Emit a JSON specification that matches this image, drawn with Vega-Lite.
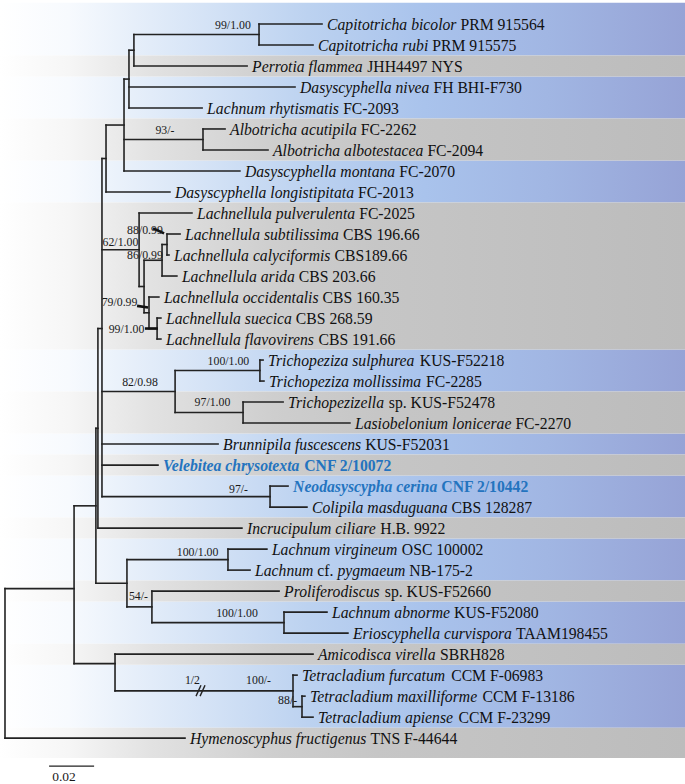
{
  "$schema": "https://vega.github.io/schema/vega-lite/v6.json",
  "width": 685,
  "height": 784,
  "autosize": {"type": "fit", "contains": "padding"},
  "padding": 0,
  "background": "white",
  "config": {"view": {"stroke": null}, "text": {"font": "Liberation Serif"}},
  "datasets": {
    "bands": [
      {"c": "blue", "y1": -1.01, "y2": 1.5},
      {"c": "gray", "y1": 1.5, "y2": 2.5},
      {"c": "blue", "y1": 2.5, "y2": 4.5},
      {"c": "gray", "y1": 4.5, "y2": 6.5},
      {"c": "blue", "y1": 6.5, "y2": 8.5},
      {"c": "gray", "y1": 8.5, "y2": 15.5},
      {"c": "blue", "y1": 15.5, "y2": 17.5},
      {"c": "gray", "y1": 17.5, "y2": 19.5},
      {"c": "blue", "y1": 19.5, "y2": 20.5},
      {"c": "gray", "y1": 20.5, "y2": 21.5},
      {"c": "blue", "y1": 21.5, "y2": 23.5},
      {"c": "gray", "y1": 23.5, "y2": 24.5},
      {"c": "blue", "y1": 24.5, "y2": 26.5},
      {"c": "gray", "y1": 26.5, "y2": 27.5},
      {"c": "blue", "y1": 27.5, "y2": 29.5},
      {"c": "gray", "y1": 29.5, "y2": 30.5},
      {"c": "blue", "y1": 30.5, "y2": 33.5},
      {"c": "gray", "y1": 33.5, "y2": 34.95}
    ],
    "tree": [
      {"id": "J", "parent": "root", "x0": 0, "x": 0.0307, "y": 26.88},
      {"id": "G", "parent": "J", "x0": 0.0307, "x": 0.0404, "y": 22.94},
      {"id": "K", "parent": "J", "x0": 0.0307, "x": 0.0489, "y": 30.45},
      {"id": "Q", "parent": "G", "x0": 0.0404, "x": 0.0413, "y": 19.25},
      {"id": "H", "parent": "G", "x0": 0.0404, "x": 0.0542, "y": 26.625},
      {"id": "R", "parent": "Q", "x0": 0.0413, "x": 0.0431, "y": 14.5},
      {"id": "D", "parent": "R", "x0": 0.0431, "x": 0.0449, "y": 6.406},
      {"id": "C", "parent": "D", "x0": 0.0449, "x": 0.0529, "y": 4.8125},
      {"id": "B", "parent": "C", "x0": 0.0529, "x": 0.0551, "y": 2.625},
      {"id": "A", "parent": "B", "x0": 0.0551, "x": 0.0573, "y": 1.25},
      {"id": "Cap", "parent": "A", "x0": 0.0573, "x": 0.1129, "y": 0.5},
      {"id": "Albo", "parent": "C", "x0": 0.0529, "x": 0.088, "y": 5.5},
      {"id": "Lach", "parent": "R", "x0": 0.0431, "x": 0.0596, "y": 10.75},
      {"id": "L", "parent": "Lach", "x0": 0.0596, "x": 0.0618, "y": 12.5},
      {"id": "M", "parent": "L", "x0": 0.0618, "x": 0.0698, "y": 11.25},
      {"id": "N", "parent": "M", "x0": 0.0698, "x": 0.072, "y": 10.5},
      {"id": "O", "parent": "L", "x0": 0.0618, "x": 0.064, "y": 13.75},
      {"id": "P", "parent": "O", "x0": 0.064, "x": 0.0676, "y": 14.5},
      {"id": "T", "parent": "R", "x0": 0.0431, "x": 0.0756, "y": 17.5},
      {"id": "U", "parent": "T", "x0": 0.0756, "x": 0.1133, "y": 16.5},
      {"id": "V", "parent": "T", "x0": 0.0756, "x": 0.1058, "y": 18.5},
      {"id": "Neo", "parent": "R", "x0": 0.0431, "x": 0.1178, "y": 22.5},
      {"id": "Virg", "parent": "H", "x0": 0.0542, "x": 0.0991, "y": 25.5},
      {"id": "I", "parent": "H", "x0": 0.0542, "x": 0.0653, "y": 27.75},
      {"id": "Abn", "parent": "I", "x0": 0.0653, "x": 0.124, "y": 28.5},
      {"id": "W", "parent": "K", "x0": 0.0489, "x": 0.128, "y": 31.75},
      {"id": "X", "parent": "W", "x0": 0.128, "x": 0.132, "y": 32.5},
      {"id": "t0", "parent": "Cap", "x0": 0.1129, "x": 0.1409, "y": 0, "it1": "Capitotricha bicolor", "r1": "PRM 915564", "novel": false},
      {"id": "t1", "parent": "Cap", "x0": 0.1129, "x": 0.1369, "y": 1, "it1": "Capitotricha rubi", "r1": "PRM 915575", "novel": false},
      {"id": "t2", "parent": "A", "x0": 0.0573, "x": 0.1076, "y": 2, "it1": "Perrotia flammea", "r1": "JHH4497 NYS", "novel": false},
      {"id": "t3", "parent": "B", "x0": 0.0551, "x": 0.1289, "y": 3, "it1": "Dasyscyphella nivea", "r1": "FH BHI-F730", "novel": false},
      {"id": "t4", "parent": "B", "x0": 0.0551, "x": 0.0876, "y": 4, "it1": "Lachnum rhytismatis", "r1": "FC-2093", "novel": false},
      {"id": "t5", "parent": "Albo", "x0": 0.088, "x": 0.0978, "y": 5, "it1": "Albotricha acutipila", "r1": "FC-2262", "novel": false},
      {"id": "t6", "parent": "Albo", "x0": 0.088, "x": 0.1169, "y": 6, "it1": "Albotricha albotestacea", "r1": "FC-2094", "novel": false},
      {"id": "t7", "parent": "C", "x0": 0.0529, "x": 0.1044, "y": 7, "it1": "Dasyscyphella montana", "r1": "FC-2070", "novel": false},
      {"id": "t8", "parent": "D", "x0": 0.0449, "x": 0.0733, "y": 8, "it1": "Dasyscyphella longistipitata", "r1": "FC-2013", "novel": false},
      {"id": "t9", "parent": "Lach", "x0": 0.0596, "x": 0.0831, "y": 9, "it1": "Lachnellula pulverulenta", "r1": "FC-2025", "novel": false},
      {"id": "t10", "parent": "N", "x0": 0.072, "x": 0.0778, "y": 10, "it1": "Lachnellula subtilissima", "r1": "CBS 196.66", "novel": false},
      {"id": "t11", "parent": "N", "x0": 0.072, "x": 0.0729, "y": 11, "it1": "Lachnellula calyciformis", "r1": "CBS189.66", "novel": false},
      {"id": "t12", "parent": "M", "x0": 0.0698, "x": 0.0764, "y": 12, "it1": "Lachnellula arida", "r1": "CBS 203.66", "novel": false},
      {"id": "t13", "parent": "O", "x0": 0.064, "x": 0.0684, "y": 13, "it1": "Lachnellula occidentalis", "r1": "CBS 160.35", "novel": false},
      {"id": "t14", "parent": "P", "x0": 0.0676, "x": 0.0693, "y": 14, "it1": "Lachnellula suecica", "r1": "CBS 268.59", "novel": false},
      {"id": "t15", "parent": "P", "x0": 0.0676, "x": 0.0693, "y": 15, "it1": "Lachnellula flavovirens", "r1": "CBS 191.66", "novel": false},
      {"id": "t16", "parent": "U", "x0": 0.1133, "x": 0.1147, "y": 16, "it1": "Trichopeziza sulphurea", "r1": "KUS-F52218", "novel": false},
      {"id": "t17", "parent": "U", "x0": 0.1133, "x": 0.1151, "y": 17, "it1": "Trichopeziza mollissima", "r1": "FC-2285", "novel": false},
      {"id": "t18", "parent": "V", "x0": 0.1058, "x": 0.1236, "y": 18, "it1": "Trichopezizella", "r1": "sp. KUS-F52478", "novel": false},
      {"id": "t19", "parent": "V", "x0": 0.1058, "x": 0.1533, "y": 19, "it1": "Lasiobelonium lonicerae", "r1": "FC-2270", "novel": false},
      {"id": "t20", "parent": "R", "x0": 0.0431, "x": 0.0947, "y": 20, "it1": "Brunnipila fuscescens", "r1": "KUS-F52031", "novel": false},
      {"id": "t21", "parent": "R", "x0": 0.0431, "x": 0.068, "y": 21, "it1": "Velebitea chrysotexta", "r1": "CNF 2/10072", "novel": true},
      {"id": "t22", "parent": "Neo", "x0": 0.1178, "x": 0.1258, "y": 22, "it1": "Neodasyscypha cerina", "r1": "CNF 2/10442", "novel": true},
      {"id": "t23", "parent": "Neo", "x0": 0.1178, "x": 0.1342, "y": 23, "it1": "Colipila masduguana", "r1": "CBS 128287", "novel": false},
      {"id": "t24", "parent": "Q", "x0": 0.0413, "x": 0.1053, "y": 24, "it1": "Incrucipulum ciliare", "r1": "H.B. 9922", "novel": false},
      {"id": "t25", "parent": "Virg", "x0": 0.0991, "x": 0.1164, "y": 25, "it1": "Lachnum virgineum", "r1": "OSC 100002", "novel": false},
      {"id": "t26", "parent": "Virg", "x0": 0.0991, "x": 0.1089, "y": 26, "it1": "Lachnum", "r1": "cf.", "it2": "pygmaeum", "r2": "NB-175-2", "novel": false},
      {"id": "t27", "parent": "I", "x0": 0.0653, "x": 0.1218, "y": 27, "it1": "Proliferodiscus", "r1": "sp. KUS-F52660", "novel": false},
      {"id": "t28", "parent": "Abn", "x0": 0.124, "x": 0.1431, "y": 28, "it1": "Lachnum abnorme", "r1": "KUS-F52080", "novel": false},
      {"id": "t29", "parent": "Abn", "x0": 0.124, "x": 0.1524, "y": 29, "it1": "Erioscyphella curvispora", "r1": "TAAM198455", "novel": false},
      {"id": "t30", "parent": "K", "x0": 0.0489, "x": 0.1369, "y": 30, "it1": "Amicodisca virella", "r1": "SBRH828", "novel": false},
      {"id": "t31", "parent": "W", "x0": 0.128, "x": 0.1298, "y": 31, "it1": "Tetracladium furcatum", "r1": "CCM F-06983", "novel": false},
      {"id": "t32", "parent": "X", "x0": 0.132, "x": 0.1333, "y": 32, "it1": "Tetracladium maxilliforme", "r1": "CCM F-13186", "novel": false},
      {"id": "t33", "parent": "X", "x0": 0.132, "x": 0.1369, "y": 33, "it1": "Tetracladium apiense", "r1": "CCM F-23299", "novel": false},
      {"id": "t34", "parent": "root", "x0": 0, "x": 0.08, "y": 34, "it1": "Hymenoscyphus fructigenus", "r1": "TNS F-44644", "novel": false}
    ],
    "supports": [
      {"t": "99/1.00", "x": 0.1013, "y": 0.05},
      {"t": "93/-", "x": 0.0711, "y": 5.03},
      {"t": "62/1.00", "x": 0.0513, "y": 10.4},
      {"t": "88/0.99", "x": 0.0622, "y": 9.83},
      {"t": "86/0.99", "x": 0.0622, "y": 11.02},
      {"t": "79/0.99", "x": 0.0509, "y": 13.25},
      {"t": "99/1.00", "x": 0.054, "y": 14.5},
      {"t": "100/1.00", "x": 0.0993, "y": 16.05},
      {"t": "82/0.98", "x": 0.06, "y": 17.05},
      {"t": "97/1.00", "x": 0.0922, "y": 18.0},
      {"t": "97/-", "x": 0.1038, "y": 22.13},
      {"t": "100/1.00", "x": 0.0856, "y": 25.12},
      {"t": "54/-", "x": 0.0593, "y": 27.21},
      {"t": "100/1.00", "x": 0.1031, "y": 28.06},
      {"t": "1/2", "x": 0.0833, "y": 31.24},
      {"t": "100/-", "x": 0.1127, "y": 31.24},
      {"t": "88/-", "x": 0.1256, "y": 32.19}
    ],
    "segs": [
      {"k": "arrow", "x": 0.0658, "x2": 0.0707, "y": 9.73, "y2": 9.97},
      {"k": "arrow", "x": 0.0587, "x2": 0.0636, "y": 13.42, "y2": 13.5},
      {"k": "arrow", "x": 0.0622, "x2": 0.068, "y": 14.5, "y2": 14.5},
      {"k": "break", "x": 0.0849, "x2": 0.0871, "y": 32.0, "y2": 31.48},
      {"k": "break", "x": 0.0867, "x2": 0.0889, "y": 32.0, "y2": 31.48},
      {"k": "scale", "x": 0.0196, "x2": 0.0396, "y": 35.33, "y2": 35.33}
    ],
    "scalelabel": [{"t": "0.02", "x": 0.0262, "y": 35.85}]
  },
  "layer": [
    {
      "data": {"name": "bands"},
      "transform": [{"filter": "datum.c == 'blue'"}],
      "mark": {"type": "rect", "fill": {"gradient": "linear", "x1": 0, "y1": 0, "x2": 1, "y2": 0, "stops": [
        {"offset": 0, "color": "#ffffff"},
        {"offset": 0.1, "color": "#f7fafe"},
        {"offset": 0.22, "color": "#e2ecf9"},
        {"offset": 0.45, "color": "#bcd2f0"},
        {"offset": 0.62, "color": "#a9c3ec"},
        {"offset": 0.8, "color": "#a1b6e3"},
        {"offset": 1, "color": "#96a3d6"}]}},
      "encoding": {
        "y": {"field": "y1", "type": "quantitative", "scale": {"domain": [-1.1396, 36.087], "nice": false, "zero": false, "reverse": true}, "axis": null},
        "y2": {"field": "y2"}
      }
    },
    {
      "data": {"name": "bands"},
      "transform": [{"filter": "datum.c == 'gray'"}],
      "mark": {"type": "rect", "fill": {"gradient": "linear", "x1": 0, "y1": 0, "x2": 1, "y2": 0, "stops": [
        {"offset": 0, "color": "#ffffff"},
        {"offset": 0.1, "color": "#f6f6f6"},
        {"offset": 0.22, "color": "#e2e2e2"},
        {"offset": 0.4, "color": "#cecece"},
        {"offset": 0.55, "color": "#c6c6c6"},
        {"offset": 1, "color": "#bcbcbc"}]}},
      "encoding": {
        "y": {"field": "y1", "type": "quantitative", "scale": {"domain": [-1.1396, 36.087], "nice": false, "zero": false, "reverse": true}, "axis": null},
        "y2": {"field": "y2"}
      }
    },
    {
      "data": {"name": "tree"},
      "mark": {"type": "rule", "color": "#222222", "strokeWidth": 1.6, "strokeCap": "square"},
      "encoding": {
        "x": {"field": "x0", "type": "quantitative", "scale": {"domain": [-0.00222, 0.30222], "nice": false, "zero": false}, "axis": null},
        "x2": {"field": "x"},
        "y": {"field": "y", "type": "quantitative", "scale": {"domain": [-1.1396, 36.087], "nice": false, "zero": false, "reverse": true}, "axis": null}
      }
    },
    {
      "data": {"name": "tree"},
      "transform": [{"aggregate": [{"op": "min", "field": "y", "as": "ymin"}, {"op": "max", "field": "y", "as": "ymax"}], "groupby": ["parent", "x0"]}],
      "mark": {"type": "rule", "color": "#222222", "strokeWidth": 1.6, "strokeCap": "square"},
      "encoding": {
        "x": {"field": "x0", "type": "quantitative", "scale": {"domain": [-0.00222, 0.30222], "nice": false, "zero": false}, "axis": null},
        "y": {"field": "ymin", "type": "quantitative", "scale": {"domain": [-1.1396, 36.087], "nice": false, "zero": false, "reverse": true}, "axis": null},
        "y2": {"field": "ymax"}
      }
    },
    {
      "data": {"name": "segs"},
      "transform": [{"filter": "datum.k == 'arrow'"}],
      "mark": {"type": "rule", "color": "#111111", "strokeWidth": 2.6},
      "encoding": {
        "x": {"field": "x", "type": "quantitative", "scale": {"domain": [-0.00222, 0.30222], "nice": false, "zero": false}, "axis": null},
        "x2": {"field": "x2"},
        "y": {"field": "y", "type": "quantitative", "scale": {"domain": [-1.1396, 36.087], "nice": false, "zero": false, "reverse": true}, "axis": null},
        "y2": {"field": "y2"}
      }
    },
    {
      "data": {"name": "segs"},
      "transform": [{"filter": "datum.k != 'arrow'"}],
      "mark": {"type": "rule", "color": "#222222", "strokeWidth": 1.4},
      "encoding": {
        "x": {"field": "x", "type": "quantitative", "scale": {"domain": [-0.00222, 0.30222], "nice": false, "zero": false}, "axis": null},
        "x2": {"field": "x2"},
        "y": {"field": "y", "type": "quantitative", "scale": {"domain": [-1.1396, 36.087], "nice": false, "zero": false, "reverse": true}, "axis": null},
        "y2": {"field": "y2"}
      }
    },
    {
      "data": {"name": "tree"},
      "transform": [
        {"filter": "datum.it1"},
        {"calculate": "500*length(datum.it1)-222*length(replace(datum.it1,regexp('[^ijltf]','g'),''))-111*length(replace(datum.it1,regexp('[^rsz]','g'),''))-56*length(replace(datum.it1,regexp('[^cekvxy]','g'),''))+222*length(replace(datum.it1,regexp('[^m]','g'),''))+167*length(replace(datum.it1,regexp('[^w]','g'),''))-250*length(replace(datum.it1,regexp('[^ ]','g'),''))-167*length(replace(datum.it1,regexp('[^I]','g'),''))+56*length(replace(datum.it1,regexp('[^LT]','g'),''))+111*length(replace(datum.it1,regexp('[^ABEPV]','g'),''))+167*length(replace(datum.it1,regexp('[^CN]','g'),''))+222*length(replace(datum.it1,regexp('[^DH]','g'),'')) + (datum.novel ? 56*length(replace(datum.it1,regexp('[^hnuxN]','g'),'')) : 0)", "as": "w1"},
        {"calculate": "datum.x + (datum.w1*0.0157 + 3.9)/2250", "as": "xr1"}
      ],
      "encoding": {
        "y": {"field": "y", "type": "quantitative", "scale": {"domain": [-1.1396, 36.087], "nice": false, "zero": false, "reverse": true}, "axis": null},
        "text": {"field": "it1"}
      },
      "layer": [
        {
          "transform": [{"filter": "!datum.novel"}],
          "mark": {"type": "text", "align": "left", "baseline": "middle", "dx": 5, "dy": 1, "fontSize": 15.7, "fontStyle": "italic", "color": "#111111"},
          "encoding": {
            "x": {"field": "x", "type": "quantitative", "scale": {"domain": [-0.00222, 0.30222], "nice": false, "zero": false}, "axis": null},
            "text": {"field": "it1"}
          }
        },
        {
          "transform": [{"filter": "!datum.novel"}],
          "mark": {"type": "text", "align": "left", "baseline": "middle", "dx": 5, "dy": 1, "fontSize": 15.7, "color": "#111111"},
          "encoding": {
            "x": {"field": "xr1", "type": "quantitative", "scale": {"domain": [-0.00222, 0.30222], "nice": false, "zero": false}, "axis": null},
            "text": {"field": "r1"}
          }
        },
        {
          "transform": [{"filter": "datum.novel"}],
          "mark": {"type": "text", "align": "left", "baseline": "middle", "dx": 5, "dy": 1, "fontSize": 15.7, "fontStyle": "italic", "fontWeight": "bold", "color": "#2474bf"},
          "encoding": {
            "x": {"field": "x", "type": "quantitative", "scale": {"domain": [-0.00222, 0.30222], "nice": false, "zero": false}, "axis": null},
            "text": {"field": "it1"}
          }
        },
        {
          "transform": [{"filter": "datum.novel"}],
          "mark": {"type": "text", "align": "left", "baseline": "middle", "dx": 5, "dy": 1, "fontSize": 15.7, "fontWeight": "bold", "color": "#2474bf"},
          "encoding": {
            "x": {"field": "xr1", "type": "quantitative", "scale": {"domain": [-0.00222, 0.30222], "nice": false, "zero": false}, "axis": null},
            "text": {"field": "r1"}
          }
        },
        {
          "transform": [
            {"filter": "datum.it2"},
            {"calculate": "500*length(datum.r1)-250*length(replace(datum.r1,regexp('[^ .]','g'),''))-222*length(replace(datum.r1,regexp('[^ijlt/]','g'),''))-167*length(replace(datum.r1,regexp('[^fr-]','g'),''))-111*length(replace(datum.r1,regexp('[^s]','g'),''))-56*length(replace(datum.r1,regexp('[^ce]','g'),''))+200*length(replace(datum.r1,regexp('[^A-Z]','g'),''))", "as": "wr1"},
            {"calculate": "datum.xr1 + (datum.wr1*0.0157 + 3.9)/2250", "as": "xi2"}
          ],
          "mark": {"type": "text", "align": "left", "baseline": "middle", "dx": 5, "dy": 1, "fontSize": 15.7, "fontStyle": "italic", "color": "#111111"},
          "encoding": {
            "x": {"field": "xi2", "type": "quantitative", "scale": {"domain": [-0.00222, 0.30222], "nice": false, "zero": false}, "axis": null},
            "text": {"field": "it2"}
          }
        },
        {
          "transform": [
            {"filter": "datum.it2"},
            {"calculate": "500*length(datum.r1)-250*length(replace(datum.r1,regexp('[^ .]','g'),''))-222*length(replace(datum.r1,regexp('[^ijlt/]','g'),''))-167*length(replace(datum.r1,regexp('[^fr-]','g'),''))-111*length(replace(datum.r1,regexp('[^s]','g'),''))-56*length(replace(datum.r1,regexp('[^ce]','g'),''))+200*length(replace(datum.r1,regexp('[^A-Z]','g'),''))", "as": "wr1"},
            {"calculate": "500*length(datum.it2)-222*length(replace(datum.it2,regexp('[^ijltf]','g'),''))-111*length(replace(datum.it2,regexp('[^rsz]','g'),''))-56*length(replace(datum.it2,regexp('[^cekvxy]','g'),''))+222*length(replace(datum.it2,regexp('[^m]','g'),''))+167*length(replace(datum.it2,regexp('[^w]','g'),''))-250*length(replace(datum.it2,regexp('[^ ]','g'),''))", "as": "wi2"},
            {"calculate": "datum.xr1 + (datum.wr1*0.0157 + 3.9)/2250 + (datum.wi2*0.0157 + 3.9)/2250", "as": "xr2"}
          ],
          "mark": {"type": "text", "align": "left", "baseline": "middle", "dx": 5, "dy": 1, "fontSize": 15.7, "color": "#111111"},
          "encoding": {
            "x": {"field": "xr2", "type": "quantitative", "scale": {"domain": [-0.00222, 0.30222], "nice": false, "zero": false}, "axis": null},
            "text": {"field": "r2"}
          }
        }
      ]
    },
    {
      "data": {"name": "supports"},
      "mark": {"type": "text", "align": "center", "baseline": "middle", "fontSize": 11.8, "color": "#1a1a1a"},
      "encoding": {
        "x": {"field": "x", "type": "quantitative", "scale": {"domain": [-0.00222, 0.30222], "nice": false, "zero": false}, "axis": null},
        "y": {"field": "y", "type": "quantitative", "scale": {"domain": [-1.1396, 36.087], "nice": false, "zero": false, "reverse": true}, "axis": null},
        "text": {"field": "t"}
      }
    },
    {
      "data": {"name": "scalelabel"},
      "mark": {"type": "text", "align": "center", "baseline": "middle", "fontSize": 13.5, "color": "#1a1a1a"},
      "encoding": {
        "x": {"field": "x", "type": "quantitative", "scale": {"domain": [-0.00222, 0.30222], "nice": false, "zero": false}, "axis": null},
        "y": {"field": "y", "type": "quantitative", "scale": {"domain": [-1.1396, 36.087], "nice": false, "zero": false, "reverse": true}, "axis": null},
        "text": {"field": "t"}
      }
    }
  ]
}
